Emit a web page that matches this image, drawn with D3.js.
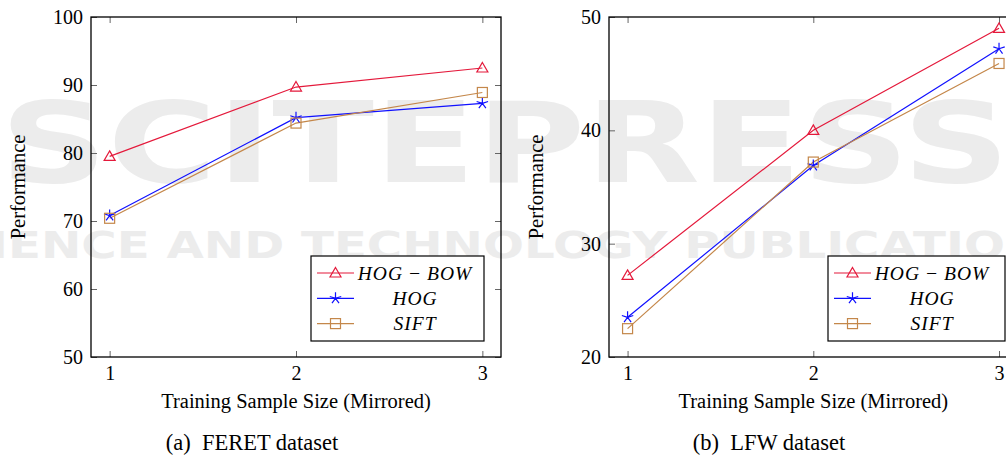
<!DOCTYPE html>
<html>
<head>
<meta charset="utf-8">
<script src="https://cdn.jsdelivr.net/npm/d3@7"></script>
<style>
  body { margin: 0; background: #fff; }
  svg { display: block; font-family: "Liberation Serif", "Times New Roman", serif; }
</style>
</head>
<body>
<div id="chart"></div>
<script>
// values
var xValues = [1, 2, 3];
var seriesNames = ["HOG\u2009\u2212\u2009BOW", "HOG", "SIFT"];
var feretHogBow = [79.5, 89.7, 92.5];
var feretHog = [70.8, 85.2, 87.3];
var feretSift = [70.4, 84.4, 88.9];
var lfwHogBow = [27.2, 40.0, 49.0];
var lfwHog = [23.5, 36.9, 47.2];
var lfwSift = [22.5, 37.2, 45.9];
var feretYTicks = [50, 60, 70, 80, 90, 100];
var lfwYTicks = [20, 30, 40, 50];
var captions = ["(a)\u2002FERET dataset", "(b)\u2002LFW dataset"];

var colors = ["#e4193b", "#1010ff", "#c4874a"];
var markers = ["triangle", "star", "square"];

var W = 1006, H = 457;
var svg = d3.select("#chart").append("svg")
    .attr("width", W)
    .attr("height", H);

// faint publisher watermark behind everything
var wm = svg.append("g").attr("fill", "#ececec")
    .style("font-family", "'DejaVu Sans', sans-serif")
    .style("font-weight", "bold");
wm.append("text")
    .attr("x", 0).attr("y", 182)
    .attr("textLength", 1010).attr("lengthAdjust", "spacingAndGlyphs")
    .style("font-size", "112px")
    .text("SCITEPRESS");
wm.append("text")
    .attr("x", -80).attr("y", 258)
    .attr("textLength", 1160).attr("lengthAdjust", "spacingAndGlyphs")
    .style("font-size", "37px")
    .text("SCIENCE AND TECHNOLOGY PUBLICATIONS");

function drawMarker(g, type, color) {
  if (type == "triangle") {
    g.append("path").attr("d", "M0,-5.5L5.5,4L-5.5,4Z")
      .attr("fill", "none").attr("stroke", color).attr("stroke-width", 1.2);
  } else if (type == "square") {
    g.append("rect").attr("x", -5).attr("y", -5).attr("width", 10).attr("height", 10)
      .attr("fill", "none").attr("stroke", color).attr("stroke-width", 1.2);
  } else {
    var d = "";
    for (var i = 0; i < 5; i++) {
      var a = -Math.PI / 2 + i * 2 * Math.PI / 5;
      d += "M0,0L" + (6 * Math.cos(a)).toFixed(2) + "," + (6 * Math.sin(a)).toFixed(2);
    }
    g.append("path").attr("d", d).attr("stroke", color).attr("stroke-width", 1.2);
  }
}

function drawPanel(p) {
  var g = svg.append("g");
  var x = d3.scaleLinear().domain([0.9, 3.1]).range([p.left, p.right]);
  var y = d3.scaleLinear().domain(p.yDomain).range([p.bottom, p.top]);

  // ticks on all four sides, pointing inwards
  var tickLen = 6;
  var xAxisB = d3.axisBottom(x).tickValues(xValues).tickSize(-tickLen).tickPadding(9).tickFormat(d3.format("d"));
  var xAxisT = d3.axisTop(x).tickValues(xValues).tickSize(-tickLen).tickFormat("");
  var yAxisL = d3.axisLeft(y).tickValues(p.yTicks).tickSize(-tickLen).tickPadding(8).tickFormat(d3.format("d"));
  var yAxisR = d3.axisRight(y).tickValues(p.yTicks).tickSize(-tickLen).tickFormat("");

  var axes = [
    g.append("g").attr("transform", "translate(0," + p.bottom + ")").call(xAxisB),
    g.append("g").attr("transform", "translate(0," + p.top + ")").call(xAxisT),
    g.append("g").attr("transform", "translate(" + p.left + ",0)").call(yAxisL),
    g.append("g").attr("transform", "translate(" + p.right + ",0)").call(yAxisR)
  ];
  axes.forEach(function(a) {
    a.attr("font-family", null).attr("font-size", null);
    a.select(".domain").remove();
    a.selectAll(".tick line").attr("stroke", "#666").attr("stroke-width", 1);
    a.selectAll(".tick text")
      .attr("fill", "#000")
      .style("font-family", "'Liberation Serif', serif")
      .style("font-size", "20px");
  });

  g.append("rect")
    .attr("x", p.left).attr("y", p.top)
    .attr("width", p.right - p.left).attr("height", p.bottom - p.top)
    .attr("fill", "none").attr("stroke", "#000").attr("stroke-width", 1.3);

  var line = d3.line()
    .x(function(d, i) { return x(xValues[i]); })
    .y(function(d) { return y(d); });

  p.series.forEach(function(vals, k) {
    g.append("path").datum(vals)
      .attr("d", line)
      .attr("fill", "none")
      .attr("stroke", colors[k])
      .attr("stroke-width", 1.2);
  });
  p.series.forEach(function(vals, k) {
    vals.forEach(function(v, i) {
      drawMarker(g.append("g").attr("transform", "translate(" + x(xValues[i]) + "," + y(v) + ")"), markers[k], colors[k]);
    });
  });

  // axis titles
  g.append("text")
    .attr("x", (p.left + p.right) / 2).attr("y", 408)
    .attr("text-anchor", "middle")
    .style("font-size", "20.5px")
    .text("Training Sample Size (Mirrored)");
  g.append("text")
    .attr("transform", "translate(" + (p.left - 66) + "," + ((p.top + p.bottom) / 2) + ") rotate(-90)")
    .attr("text-anchor", "middle")
    .style("font-size", "20.5px")
    .text("Performance");

  // legend
  var lg = g.append("g").attr("transform", "translate(" + p.legendX + "," + p.legendY + ")");
  lg.append("rect")
    .attr("width", p.legendW).attr("height", 85)
    .attr("fill", "#fff").attr("stroke", "#000").attr("stroke-width", 1.2);
  seriesNames.forEach(function(name, k) {
    var ry = 17 + k * 25.3;
    lg.append("line")
      .attr("x1", 6).attr("x2", 43).attr("y1", ry).attr("y2", ry)
      .attr("stroke", colors[k]).attr("stroke-width", 1.2);
    drawMarker(lg.append("g").attr("transform", "translate(24.5," + ry + ")"), markers[k], colors[k]);
    lg.append("text")
      .attr("x", 104).attr("y", ry).attr("dy", "0.35em")
      .attr("text-anchor", "middle")
      .style("font-size", "19.5px")
      .style("font-style", "italic")
      .style("letter-spacing", "1px")
      .text(name);
  });

  // sub-caption
  svg.append("text")
    .attr("x", p.captionX).attr("y", 450)
    .attr("text-anchor", "middle")
    .style("font-size", "22.5px")
    .text(p.caption);
}

drawPanel({
  left: 91, right: 501, top: 17, bottom: 357,
  yDomain: [50, 100], yTicks: feretYTicks,
  series: [feretHogBow, feretHog, feretSift],
  legendX: 311, legendY: 256, legendW: 173,
  caption: captions[0], captionX: 252
});

drawPanel({
  left: 609, right: 1017.6, top: 17, bottom: 357,
  yDomain: [20, 50], yTicks: lfwYTicks,
  series: [lfwHogBow, lfwHog, lfwSift],
  legendX: 828, legendY: 256, legendW: 177,
  caption: captions[1], captionX: 769
});
</script>
</body>
</html>
